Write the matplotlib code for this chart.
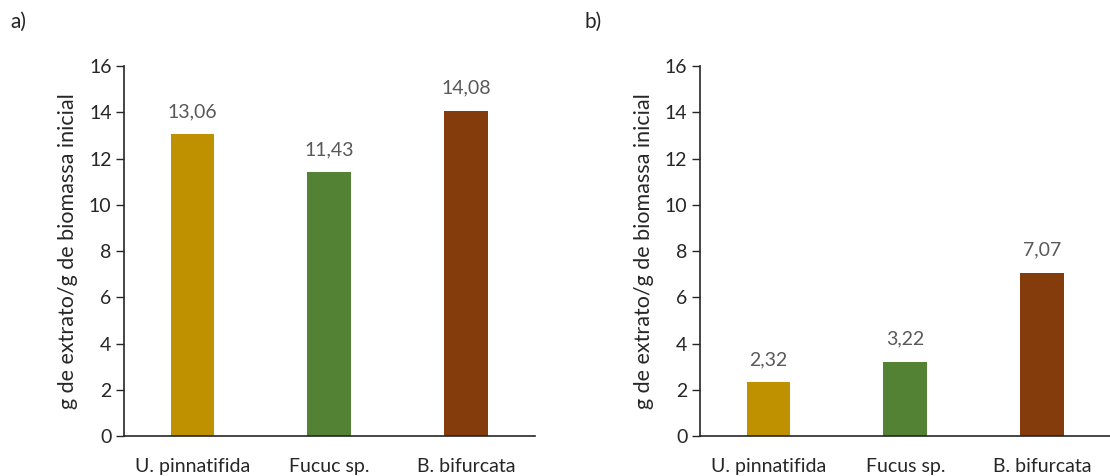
import matplotlib
matplotlib.use("Agg")
import matplotlib.pyplot as plt

plt.rcParams['font.family'] = ['Lato', 'DejaVu Sans']

species_a = ["U. pinnatifida", "Fucuc sp.", "B. bifurcata"]
species_b = ["U. pinnatifida", "Fucus sp.", "B. bifurcata"]
yield_a = [13.06, 11.43, 14.08]
yield_b = [2.32, 3.22, 7.07]
bar_colors = ["#BF9000", "#548235", "#843C0C"]
ylabel = "g de extrato/g de biomassa inicial"
yticks = [0, 2, 4, 6, 8, 10, 12, 14, 16]

fig = plt.figure(figsize=(11.10, 4.76), dpi=100)
ax_a = fig.add_axes([0.1117, 0.084, 0.370, 0.777])
ax_b = fig.add_axes([0.6306, 0.084, 0.370, 0.777])


def draw_panel(ax, names, values):
    x = range(len(names))
    ax.bar(x, values, width=0.32, color=bar_colors)
    for xi, v in zip(x, values):
        ax.annotate(f"{v:.2f}".replace(".", ","), (xi, v), xytext=(0, 10),
                    textcoords="offset points", ha="center", va="bottom",
                    fontsize=14, color="#595959")
    ax.set_xlim(-0.5, len(names) - 0.5)
    ax.set_ylim(0, 16)
    ax.set_yticks(yticks)
    ax.set_xticks(list(x))
    ax.set_xticklabels(names, fontsize=14, color="#262626")
    ax.tick_params(axis="x", length=0, pad=16)
    ax.tick_params(axis="y", length=6, width=1, direction="out", labelsize=14,
                   labelcolor="#262626", color="#262626", pad=3)
    for s in ("top", "right"):
        ax.spines[s].set_visible(False)
    for s in ("left", "bottom"):
        ax.spines[s].set_color("#262626")
        ax.spines[s].set_linewidth(1.2)
    ax.set_ylabel(ylabel, fontsize=15.5, color="#262626", labelpad=8)


draw_panel(ax_a, species_a, yield_a)
draw_panel(ax_b, species_b, yield_b)

fig.text(10 / 1110, 1 - 22 / 476, "a)", fontsize=15, va="center", ha="left", color="#262626")
fig.text(584 / 1110, 1 - 22 / 476, "b)", fontsize=15, va="center", ha="left", color="#262626")

fig.savefig("out.png", dpi=100)
